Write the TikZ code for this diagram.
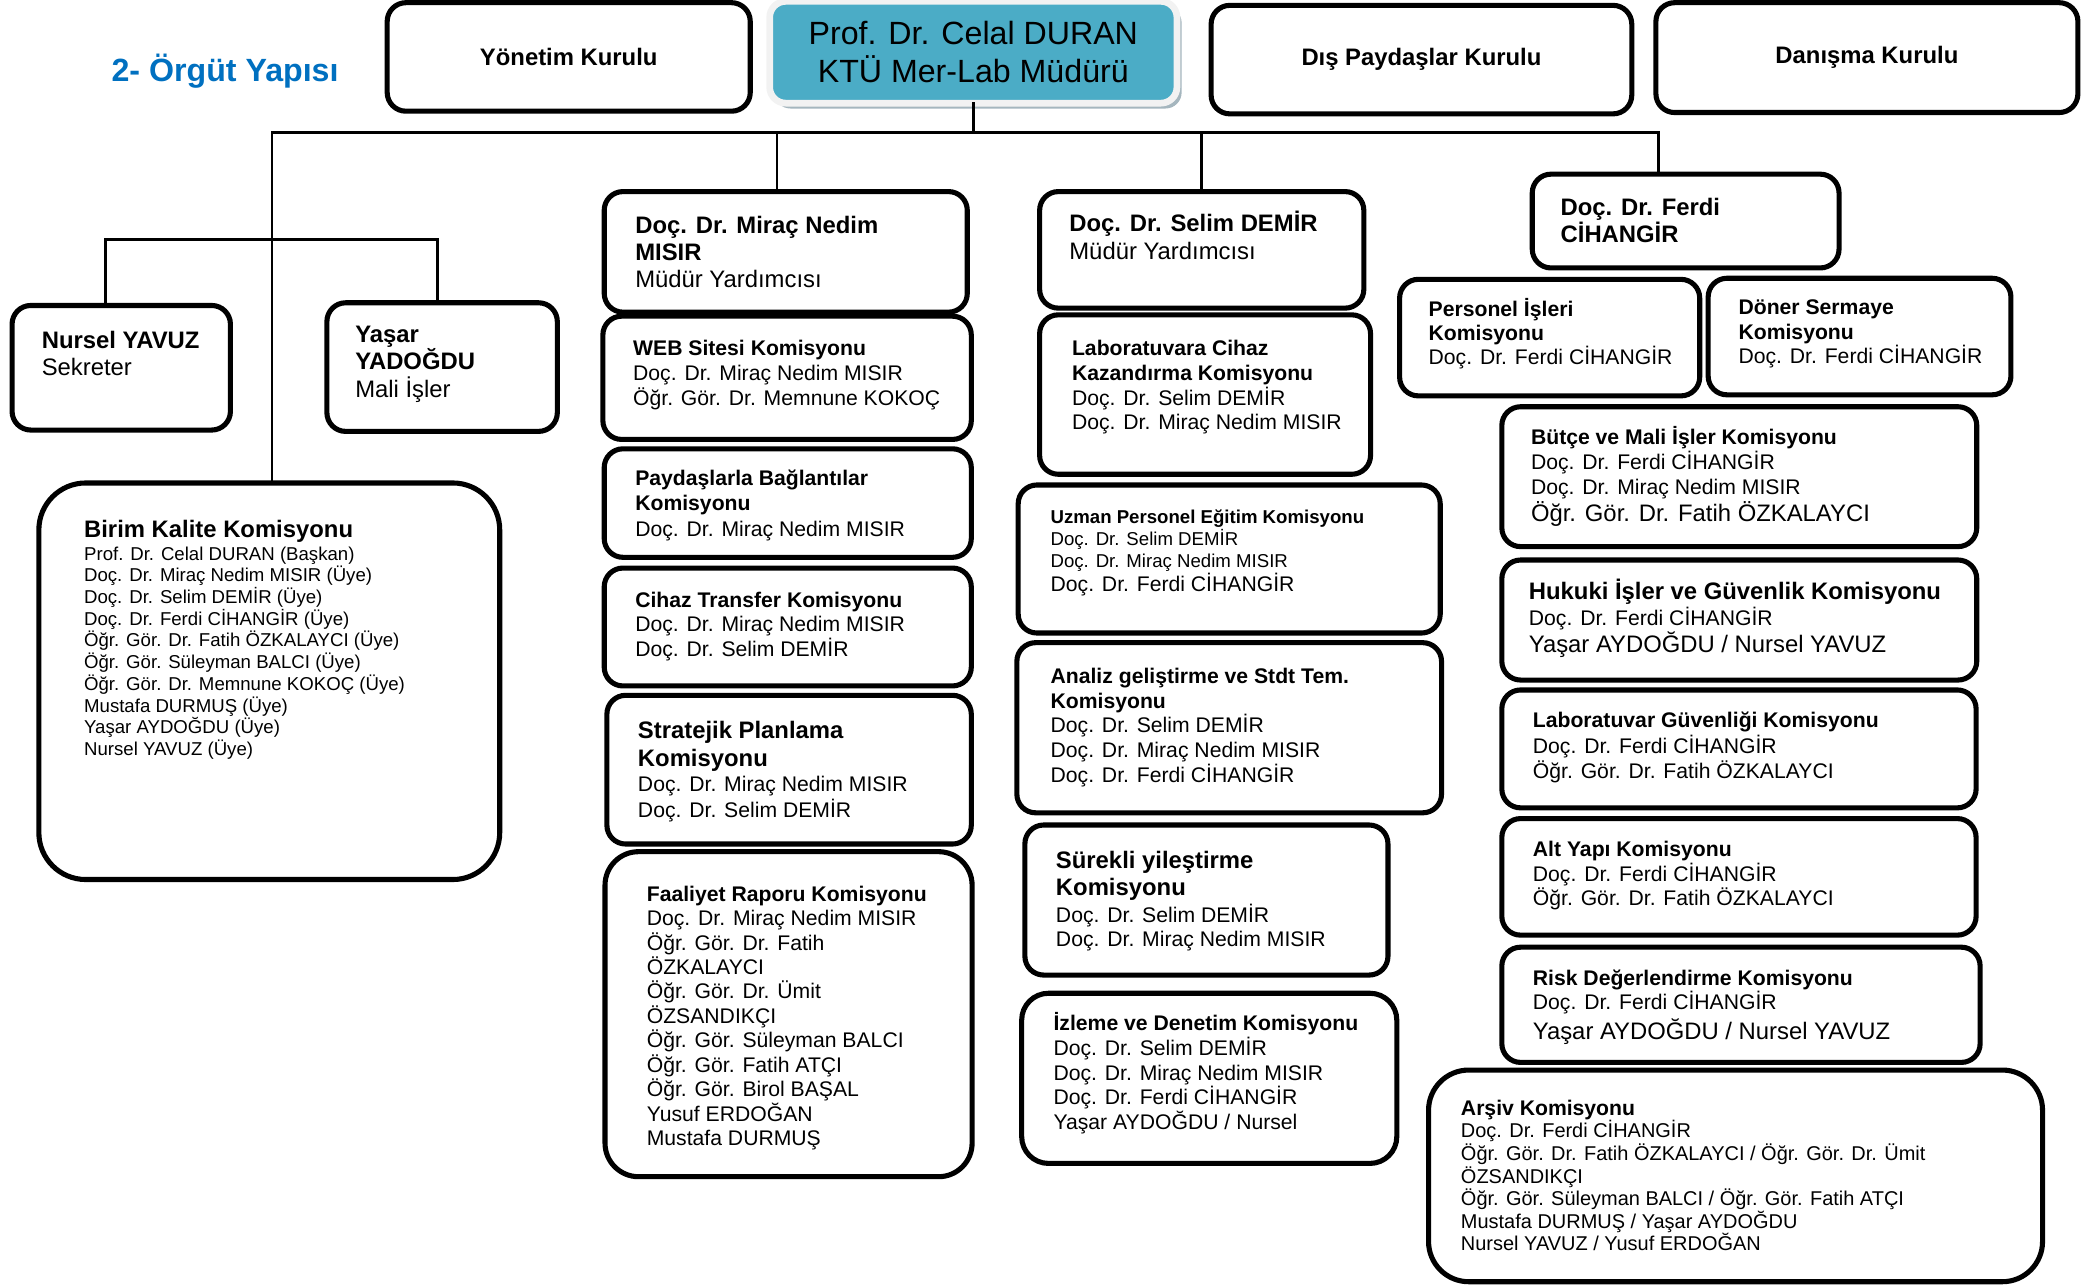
\documentclass[tikz,border=0pt]{standalone}
\usepackage{fontspec}
\setmainfont{Liberation Sans}
\usetikzlibrary{positioning, shadows}
\definecolor{mainteal}{HTML}{4BACC6}
\definecolor{mainframe}{HTML}{F2F2F2}
\definecolor{mainshadow}{HTML}{A5B6BE}
\definecolor{titleblue}{HTML}{0070C0}
\newcommand\bigbold{\fontsize{17.8}{21}\selectfont\bfseries}
\newcommand\bigreg{\fontsize{17.8}{21}\selectfont}

\begin{document}
\begin{tikzpicture}[x=1pt, y=-1pt,
  box/.style={draw, line width=3.8pt, rounded corners=14pt, inner sep=0pt, outer sep=0pt, anchor=north west},
  txt/.style={align=left, inner sep=0pt, font=\fontsize{15.8}{18.5}\selectfont},
  lead/.style={font=\fontsize{15.8}{#1}\selectfont},
  conn/.style={line width=2pt, line cap=rect}]
  \useasboundingbox (0,0) rectangle (1566,960.6);

  % top row
  \node[font=\fontsize{24}{28}\selectfont\bfseries, text=titleblue] (baslik) at (168,53) {2- Örgüt Yapısı};
  \node[box, font=\bigbold, minimum width=271pt, minimum height=81pt] (yonetim) at (289,2) {Yönetim Kurulu};
  \node[box, fill=mainteal, draw=mainframe, line width=5pt, rounded corners=12pt, drop shadow={shadow xshift=3.5pt, shadow yshift=-4pt, fill=mainshadow, opacity=1}, align=center, font=\fontsize{24}{28}\selectfont, minimum width=304pt, minimum height=76pt] (mudur) at (574.5,1) {Prof. Dr. Celal DURAN\\KTÜ Mer-Lab Müdürü};
  \node[box, font=\bigbold, minimum width=314pt, minimum height=81pt] (dispay) at (904,4) {Dış Paydaşlar Kurulu};
  \node[box, font=\bigbold, minimum width=315pt, minimum height=82pt] (danisma) at (1236,2) {Danışma Kurulu};

  % left group
  \node[box, minimum width=163pt, minimum height=93pt] (sekreter) at (9,228) {};
  \node[txt, font=\fontsize{17.8}{20}\selectfont, below right=19pt and 22pt of sekreter.north west] (sekreterT) {\textbf{Nursel YAVUZ}\\Sekreter};
  \node[box, minimum width=172pt, minimum height=96pt] (mali) at (244,226) {};
  \node[txt, font=\fontsize{17.8}{20.6}\selectfont, below right=17pt and 21pt of mali.north west] (maliT) {\textbf{Yaşar}\\\textbf{YADOĞDU}\\Mali İşler};
  \node[box, rounded corners=35pt, minimum width=344pt, minimum height=296pt] (kalite) at (29,360.5) {};
  \node[txt, font=\fontsize{13.9}{16.2}\selectfont, below right=27.3pt and 33.6pt of kalite.north west] (kaliteT) {{\bigbold Birim Kalite Komisyonu}\\[1pt]
    Prof. Dr. Celal DURAN (Başkan)\\Doç. Dr. Miraç Nedim MISIR (Üye)\\Doç. Dr. Selim DEMİR (Üye)\\Doç. Dr. Ferdi CİHANGİR (Üye)\\
    Öğr. Gör. Dr. Fatih ÖZKALAYCI (Üye)\\Öğr. Gör. Süleyman BALCI (Üye)\\Öğr. Gör. Dr. Memnune KOKOÇ (Üye)\\
    Mustafa DURMUŞ (Üye)\\Yaşar AYDOĞDU (Üye)\\Nursel YAVUZ (Üye)};

  % Mirac column
  \node[box, minimum width=271pt, minimum height=90pt] (mirac) at (451,143) {};
  \node[txt, font=\fontsize{17.8}{20.2}\selectfont, below right=18pt and 23pt of mirac.north west] (miracT) {\textbf{Doç. Dr. Miraç Nedim}\\\textbf{MISIR}\\Müdür Yardımcısı};
  \node[box, minimum width=275pt, minimum height=92pt] (web) at (450,236) {};
  \node[txt, lead=18.7, below right=17.5pt and 22.4pt of web.north west] (webT) {\textbf{WEB Sitesi Komisyonu}\\Doç. Dr. Miraç Nedim MISIR\\Öğr. Gör. Dr. Memnune KOKOÇ};
  \node[box, minimum width=274pt, minimum height=81pt] (paydas) at (451,335) {};
  \node[txt, lead=19, below right=15.5pt and 23pt of paydas.north west] (paydasT) {\textbf{Paydaşlarla Bağlantılar}\\\textbf{Komisyonu}\\Doç. Dr. Miraç Nedim MISIR};
  \node[box, minimum width=274pt, minimum height=88pt] (cihaz) at (451,424) {};
  \node[txt, below right=17.5pt and 23pt of cihaz.north west] (cihazT) {\textbf{Cihaz Transfer Komisyonu}\\Doç. Dr. Miraç Nedim MISIR\\Doç. Dr. Selim DEMİR};
  \node[box, minimum width=272pt, minimum height=111pt] (strateji) at (453,519) {};
  \node[txt, lead=19, below right=19pt and 23pt of strateji.north west] (stratejiT) {{\bigbold Stratejik Planlama}\\[2pt]{\bigbold Komisyonu}\\Doç. Dr. Miraç Nedim MISIR\\Doç. Dr. Selim DEMİR};
  \node[box, rounded corners=25pt, minimum width=274pt, minimum height=242.6pt] (faaliyet) at (451.6,635.7) {};
  \node[txt, lead=18.24, below right=25.3pt and 31pt of faaliyet.north west] (faaliyetT) {\textbf{Faaliyet Raporu Komisyonu}\\Doç. Dr. Miraç Nedim MISIR\\Öğr. Gör. Dr. Fatih\\ÖZKALAYCI\\Öğr. Gör. Dr. Ümit\\ÖZSANDIKÇI\\
    Öğr. Gör. Süleyman BALCI\\Öğr. Gör. Fatih ATÇI\\Öğr. Gör. Birol BAŞAL\\Yusuf ERDOĞAN\\Mustafa DURMUŞ};

  % Selim column
  \node[box, minimum width=242pt, minimum height=87pt] (selim) at (776,143) {};
  \node[txt, font=\fontsize{17.8}{21.2}\selectfont, below right=14.2pt and 22pt of selim.north west] (selimT) {\textbf{Doç. Dr. Selim DEMİR}\\Müdür Yardımcısı};
  \node[box, minimum width=247pt, minimum height=119pt] (lab) at (776,235) {};
  \node[txt, lead=18.6, below right=18.5pt and 24pt of lab.north west] (labT) {\textbf{Laboratuvara Cihaz}\\\textbf{Kazandırma Komisyonu}\\Doç. Dr. Selim DEMİR\\Doç. Dr. Miraç Nedim MISIR};
  \node[box, minimum width=315pt, minimum height=110.5pt] (uzman) at (760,362) {};
  \node[txt, font=\fontsize{13.9}{16.5}\selectfont, below right=18.5pt and 24pt of uzman.north west] (uzmanT) {\textbf{Uzman Personel Eğitim Komisyonu}\\Doç. Dr. Selim DEMİR\\Doç. Dr. Miraç Nedim MISIR\\{\fontsize{15.8}{18}\selectfont Doç. Dr. Ferdi CİHANGİR}};
  \node[box, minimum width=317pt, minimum height=127pt] (analiz) at (759,479.7) {};
  \node[txt, lead=18.4, below right=18.8pt and 25pt of analiz.north west] (analizT) {\textbf{Analiz geliştirme ve Stdt Tem.}\\\textbf{Komisyonu}\\Doç. Dr. Selim DEMİR\\Doç. Dr. Miraç Nedim MISIR\\Doç. Dr. Ferdi CİHANGİR};
  \node[box, minimum width=271pt, minimum height=112pt] (surekli) at (765,615.8) {};
  \node[txt, lead=18.5, below right=19.3pt and 23pt of surekli.north west] (surekliT) {{\bigbold Sürekli yileştirme}\\[1.5pt]{\bigbold Komisyonu}\\[1.5pt]Doç. Dr. Selim DEMİR\\Doç. Dr. Miraç Nedim MISIR};
  \node[box, rounded corners=20pt, minimum width=280pt, minimum height=127pt] (izleme) at (762.6,741.4) {};
  \node[txt, below right=14pt and 23.6pt of izleme.north west] (izlemeT) {\textbf{İzleme ve Denetim Komisyonu}\\Doç. Dr. Selim DEMİR\\Doç. Dr. Miraç Nedim MISIR\\Doç. Dr. Ferdi CİHANGİR\\Yaşar AYDOĞDU / Nursel};

  % Ferdi column
  \node[box, minimum width=229pt, minimum height=70pt] (ferdi) at (1143.7,130) {};
  \node[txt, font=\fontsize{17.8}{20}\selectfont, below right=17.6pt and 21pt of ferdi.north west] (ferdiT) {\textbf{Doç. Dr. Ferdi}\\\textbf{CİHANGİR}};
  \node[box, minimum width=224pt, minimum height=87pt] (personel) at (1044.7,208.5) {};
  \node[txt, lead=18, below right=14pt and 21.5pt of personel.north west] (personelT) {\textbf{Personel İşleri}\\\textbf{Komisyonu}\\Doç. Dr. Ferdi CİHANGİR};
  \node[box, minimum width=226pt, minimum height=87pt] (doner) at (1275,207.7) {};
  \node[txt, lead=18.3, below right=16pt and 22.5pt of doner.north west] (donerT) {\textbf{Döner Sermaye}\\\textbf{Komisyonu}\\Doç. Dr. Ferdi CİHANGİR};
  \node[box, minimum width=354.5pt, minimum height=104.4pt] (butce) at (1121,303.6) {};
  \node[txt, lead=18.7, below right=14.7pt and 21.6pt of butce.north west] (butceT) {\textbf{Bütçe ve Mali İşler Komisyonu}\\Doç. Dr. Ferdi CİHANGİR\\Doç. Dr. Miraç Nedim MISIR\\[1pt]{\bigreg Öğr. Gör. Dr. Fatih ÖZKALAYCI}};
  \node[box, minimum width=354.5pt, minimum height=89.6pt] (hukuki) at (1121,418) {};
  \node[txt, lead=19.8, below right=14pt and 20pt of hukuki.north west] (hukukiT) {{\bigbold Hukuki İşler ve Güvenlik Komisyonu}\\Doç. Dr. Ferdi CİHANGİR\\{\bigreg Yaşar AYDOĞDU / Nursel YAVUZ}};
  \node[box, minimum width=354pt, minimum height=88pt] (labguv) at (1121,515) {};
  \node[txt, lead=19, below right=16.5pt and 23pt of labguv.north west] (labguvT) {\textbf{Laboratuvar Güvenliği Komisyonu}\\Doç. Dr. Ferdi CİHANGİR\\Öğr. Gör. Dr. Fatih ÖZKALAYCI};
  \node[box, minimum width=354pt, minimum height=87pt] (altyapi) at (1121,611) {};
  \node[txt, below right=16.5pt and 23pt of altyapi.north west] (altyapiT) {\textbf{Alt Yapı Komisyonu}\\Doç. Dr. Ferdi CİHANGİR\\Öğr. Gör. Dr. Fatih ÖZKALAYCI};
  \node[box, minimum width=357pt, minimum height=86pt] (risk) at (1121,707) {};
  \node[txt, lead=18, below right=16.5pt and 23pt of risk.north west] (riskT) {\textbf{Risk Değerlendirme Komisyonu}\\Doç. Dr. Ferdi CİHANGİR\\[3pt]{\bigreg Yaşar AYDOĞDU / Nursel YAVUZ}};
  \node[box, rounded corners=30pt, minimum width=458.3pt, minimum height=158pt] (arsiv) at (1066.3,798.7) {};
  \node[txt, font=\fontsize{14.9}{16.9}\selectfont, below right=22pt and 24pt of arsiv.north west] (arsivT) {{\fontsize{15.8}{18}\selectfont\bfseries Arşiv Komisyonu}\\Doç. Dr. Ferdi CİHANGİR\\
    Öğr. Gör. Dr. Fatih ÖZKALAYCI / Öğr. Gör. Dr. Ümit\\ÖZSANDIKÇI\\Öğr. Gör. Süleyman BALCI / Öğr. Gör. Fatih ATÇI\\
    Mustafa DURMUŞ / Yaşar AYDOĞDU\\Nursel YAVUZ / Yusuf ERDOĞAN};

  % lines
  \coordinate (busL) at (203,99);
  \coordinate (busR) at (1238,99);
  \draw[conn] (mudur.south) -- (mudur.south |- busL);
  \draw[conn] (busL) -- (busR);
  \draw[conn] (busL) -- (busL |- kalite.north);
  \draw[conn] ([xshift=-6.5pt]mirac.north) -- ([xshift=-6.5pt]mirac.north |- busL);
  \draw[conn] (selim.north) -- (selim.north |- busL);
  \draw[conn] (busR) -- (busR |- ferdi.north);
  \draw[conn] ([xshift=-12pt]sekreter.north) -- ++(0,-49) -| ([xshift=-3.5pt]mali.north);
\end{tikzpicture}
\end{document}
